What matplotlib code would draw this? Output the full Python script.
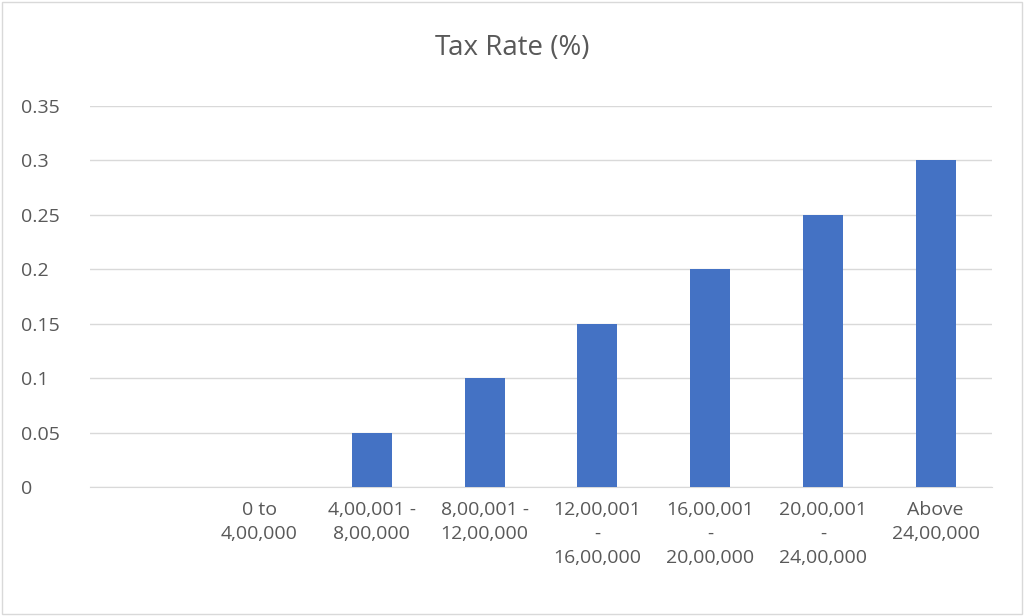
import matplotlib.pyplot as plt
from matplotlib.patches import Rectangle

# Data
categories = ["", "0 to\n4,00,000", "4,00,001 -\n8,00,000", "8,00,001 -\n12,00,000",
              "12,00,001\n-\n16,00,000", "16,00,001\n-\n20,00,000",
              "20,00,001\n-\n24,00,000", "Above\n24,00,000"]
tax_rate = [0, 0, 0.05, 0.10, 0.15, 0.20, 0.25, 0.30]
yticks = [0, 0.05, 0.1, 0.15, 0.2, 0.25, 0.3, 0.35]
ytick_labels = ["0", "0.05", "0.1", "0.15", "0.2", "0.25", "0.3", "0.35"]

TEXT = "#595959"
plt.rcParams["font.family"] = "Open Sans"

fig = plt.figure(figsize=(10.24, 6.16), dpi=100)
ax = fig.add_axes([0.0879, 0.2094, 0.8809, 0.6186])

x = list(range(len(categories)))
ax.bar(x, tax_rate, width=0.355, color="#4472C4", zorder=3)

ax.set_xlim(-0.5, len(categories) - 0.5)
ax.set_ylim(0, 0.35)
ax.set_yticks(yticks)
ax.set_yticklabels(ytick_labels, fontsize=14, color=TEXT)
ax.set_xticks(x)
ax.set_xticklabels(categories, fontsize=14, color=TEXT, linespacing=1.45, va="top")
ax.tick_params(axis="x", length=0, pad=10)
ax.tick_params(axis="y", length=0, pad=50)
for lbl in ax.get_yticklabels():
    lbl.set_horizontalalignment("left")

ax.grid(axis="y", color="#D9D9D9", linewidth=1, zorder=0)
for s in ["top", "right", "left"]:
    ax.spines[s].set_visible(False)
ax.spines["bottom"].set_color("#D9D9D9")

fig.suptitle("Tax Rate (%)", fontsize=20, color=TEXT, y=0.945)
fig.patches.append(Rectangle((0.002, 0.003), 0.996, 0.994, transform=fig.transFigure,
                             fill=False, edgecolor="#D9D9D9", linewidth=1))

fig.savefig("out.png", dpi=100)
